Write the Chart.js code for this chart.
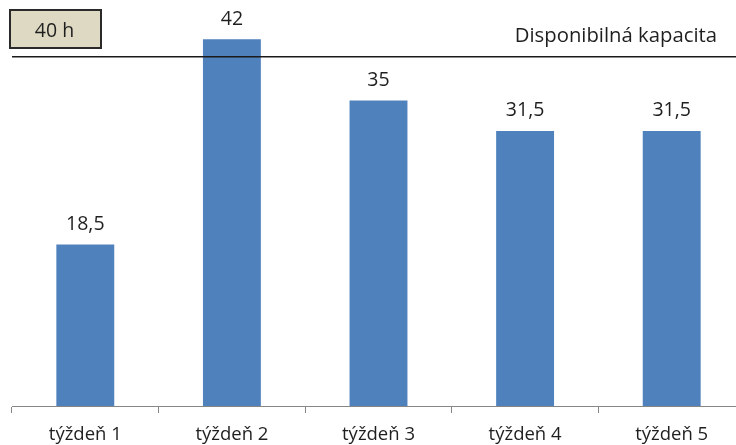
<!DOCTYPE html>
<html><head><meta charset="utf-8">
<script src="https://cdn.jsdelivr.net/npm/chart.js@4/dist/chart.umd.min.js"></script>
<style>html,body{margin:0;padding:0;overflow:hidden;background:#fff;width:736px;height:445px}canvas{display:block}</style>
</head><body>
<canvas id="c" width="746" height="445" style="width:746px;height:445px"></canvas>
<script>
const categories = ['týždeň 1','týždeň 2','týždeň 3','týždeň 4','týždeň 5'];
const hours = [18.5, 42, 35, 31.5, 31.5];
const capacity = 40;
const capacityBoxLabel = '40 h';
const capacityLabel = 'Disponibilná kapacita';
const FONT = "'Open Sans', sans-serif";

const overlay = {
  id:'overlay',
  afterDatasetsDraw(chart){
    const {ctx, chartArea, scales:{y}} = chart;
    ctx.save();
    // capacity line
    const yy = y.getPixelForValue(capacity);
    ctx.strokeStyle = '#1a1a1a'; ctx.lineWidth = 1.6;
    ctx.beginPath(); ctx.moveTo(chartArea.left, yy); ctx.lineTo(chartArea.right, yy); ctx.stroke();
    // value labels
    ctx.fillStyle = '#1f1f1f'; ctx.font = "19.5px " + FONT;
    ctx.textAlign = 'center'; ctx.textBaseline = 'alphabetic';
    chart.getDatasetMeta(0).data.forEach((bar,i)=>{
      ctx.fillText(String(hours[i]).replace('.', ','), bar.x, bar.y - 14.5);
    });
    // box
    ctx.fillStyle = '#ddd9c3'; ctx.strokeStyle = '#2a2a2a'; ctx.lineWidth = 2;
    ctx.fillRect(10, 10, 91, 38); ctx.strokeRect(10, 10, 91, 38);
    ctx.fillStyle = '#1f1f1f'; ctx.font = "19.5px " + FONT;
    ctx.fillText(capacityBoxLabel, 54.5, 36.5);
    ctx.textAlign = 'right'; ctx.font = "20.3px " + FONT;
    ctx.fillText(capacityLabel, 717, 41.5);
    ctx.restore();
  }
};

new Chart(document.getElementById('c'), {
  type:'bar',
  data:{labels:categories, datasets:[{data:hours, backgroundColor:'#4f81bd', barPercentage:0.395, categoryPercentage:1}]},
  options:{
    responsive:false, animation:false,
    layout:{padding:{left:12, right:1, top:0, bottom:0}},
    plugins:{legend:{display:false}, tooltip:{enabled:false}},
    scales:{
      y:{display:false, min:0, max:46.5},
      x:{
        afterFit(scale){ scale.height = 39; },
        grid:{display:true, drawOnChartArea:false, drawTicks:true, tickLength:7, color:'#868686', offset:true},
        border:{display:true, color:'#868686', width:1},
        ticks:{color:'#1f1f1f', font:{family:FONT, size:18.5}, padding:11, maxRotation:0}
      }
    }
  },
  plugins:[overlay]
});
</script>
</body></html>
